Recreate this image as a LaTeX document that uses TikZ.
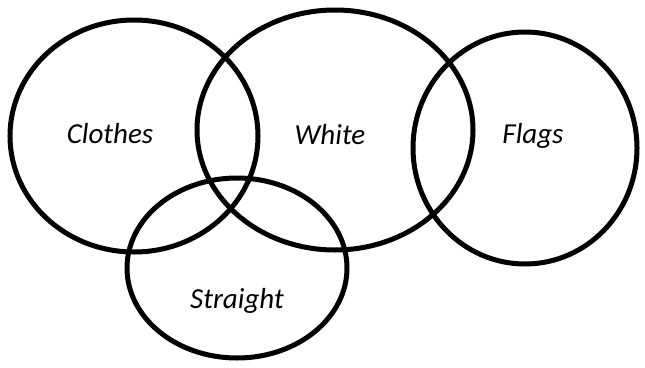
\documentclass[tikz,border=0pt]{standalone}
\usepackage{fontspec}
\setmainfont{Carlito}
\usetikzlibrary{shapes.geometric}
\tikzset{
  ring/.style={ellipse, draw=black, line width=5pt, inner sep=0pt},
  lbl/.style={anchor=base, inner sep=0pt, font=\itshape\fontsize{29}{31}\selectfont}
}

\begin{document}
\begin{tikzpicture}[x=1pt, y=-1pt]
\useasboundingbox (0,0) rectangle (645,367);
% the four sets
\node[ring, minimum width=248pt, minimum height=232pt] (clothes) at (134,136) {};
\node[ring, minimum width=276pt, minimum height=240pt] (white) at (335,130) {};
\node[ring, minimum width=224pt, minimum height=232pt] (flags) at (525,148) {};
\node[ring, minimum width=220pt, minimum height=180pt] (straight) at (237,268) {};
% labels
\node[lbl] (tclothes) at (110,143) {Clothes};
\node[lbl] (twhite) at (330,144) {White};
\node[lbl] (tflags) at (533,143) {Flags};
\node[lbl] (tstraight) at (237,308) {Straight};
\end{tikzpicture}
\end{document}
